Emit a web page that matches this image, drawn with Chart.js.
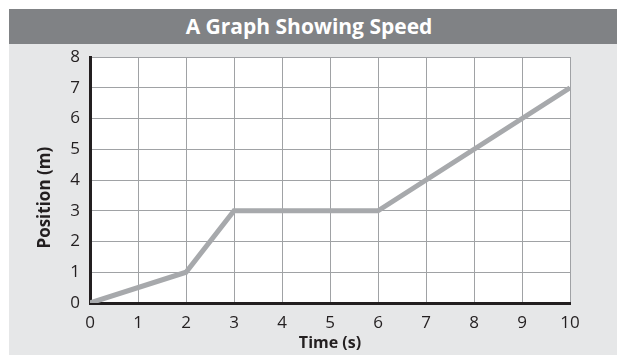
<!DOCTYPE html>
<html>
<head>
<meta charset="utf-8">
<script src="https://cdn.jsdelivr.net/npm/chart.js@4"></script>
<style>
  html, body { margin: 0; padding: 0; background: #fff; }
  #head {
    position: absolute; left: 9px; top: 9px; width: 600px; height: 35px; padding-right: 8px;
    background: #808285; color: #fff; text-align: center;
    font: bold 21px 'Open Sans', 'Noto Sans', sans-serif; line-height: 35px;
  }
  #wrap { position: absolute; left: 9px; top: 44px; width: 608px; height: 311px; background: #e6e7e8; }
</style>
</head>
<body>
<div id="head"></div>
<div id="wrap"><canvas id="chart" width="608" height="311"></canvas></div>
<script>
  const chartTitle = "A Graph Showing Speed";
  const xTitle = "Time (s)";
  const yTitle = "Position (m)";
  const timeValues = [0, 2, 3, 6, 10];
  const positionValues = [0, 1, 3, 3, 7];
  const xTicks = [0, 1, 2, 3, 4, 5, 6, 7, 8, 9, 10];
  const yTicks = [0, 1, 2, 3, 4, 5, 6, 7, 8];

  document.getElementById("head").textContent = chartTitle;

  // white plot area on the gray page
  const plotBg = {
    id: "plotBg",
    beforeDraw(chart) {
      const { ctx, chartArea: a } = chart;
      ctx.save();
      ctx.fillStyle = "#ffffff";
      ctx.fillRect(a.left, a.top, a.right - a.left, a.bottom - a.top);
      ctx.restore();
    }
  };

  const font = "'Open Sans', 'Noto Sans', sans-serif";

  new Chart(document.getElementById("chart"), {
    type: "line",
    data: {
      datasets: [{
        data: timeValues.map((t, i) => ({ x: t, y: positionValues[i] })),
        borderColor: "#a7a9ac",
        borderWidth: 5,
        pointRadius: 0,
        tension: 0,
        borderCapStyle: "butt",
        borderJoinStyle: "miter"
      }]
    },
    options: {
      responsive: false,
      animation: false,
      layout: { padding: { top: 13, right: 47, bottom: 0, left: 0 } },
      plugins: {
        legend: { display: false },
        tooltip: { enabled: false }
      },
      scales: {
        x: {
          type: "linear",
          min: xTicks[0],
          max: xTicks[xTicks.length - 1],
          afterFit(s) { s.height = 52; },
          afterBuildTicks(s) { s.ticks = xTicks.map(v => ({ value: v })); },
          grid: { color: "#a0a2a5", lineWidth: 1, drawTicks: false },
          border: { color: "#231f20", width: 3 },
          ticks: { color: "#231f20", padding: 10, font: { family: font, size: 17 } },
          title: {
            display: true, text: xTitle, color: "#231f20",
            font: { family: font, size: 16, weight: "bold", lineHeight: 1.2 },
            padding: { top: 0, bottom: 2 }
          }
        },
        y: {
          min: yTicks[0],
          max: yTicks[yTicks.length - 1],
          afterFit(s) { s.width = 81; },
          afterBuildTicks(s) { s.ticks = yTicks.map(v => ({ value: v })); },
          grid: { color: "#a0a2a5", lineWidth: 1, drawTicks: false },
          border: { color: "#231f20", width: 3 },
          // small lineHeight keeps the "8" from pushing the plot down
          ticks: { color: "#231f20", padding: 10, font: { family: font, size: 17, lineHeight: 0.3 } },
          title: {
            display: true,
            // trailing no-break spaces nudge the label below the axis middle, as in the print
            text: yTitle + "\u00a0".repeat(8),
            color: "#231f20",
            font: { family: font, size: 17, weight: "bold", lineHeight: 1.2 },
            padding: { top: 26, bottom: 0 }
          }
        }
      }
    },
    plugins: [plotBg]
  });
</script>
</body>
</html>
